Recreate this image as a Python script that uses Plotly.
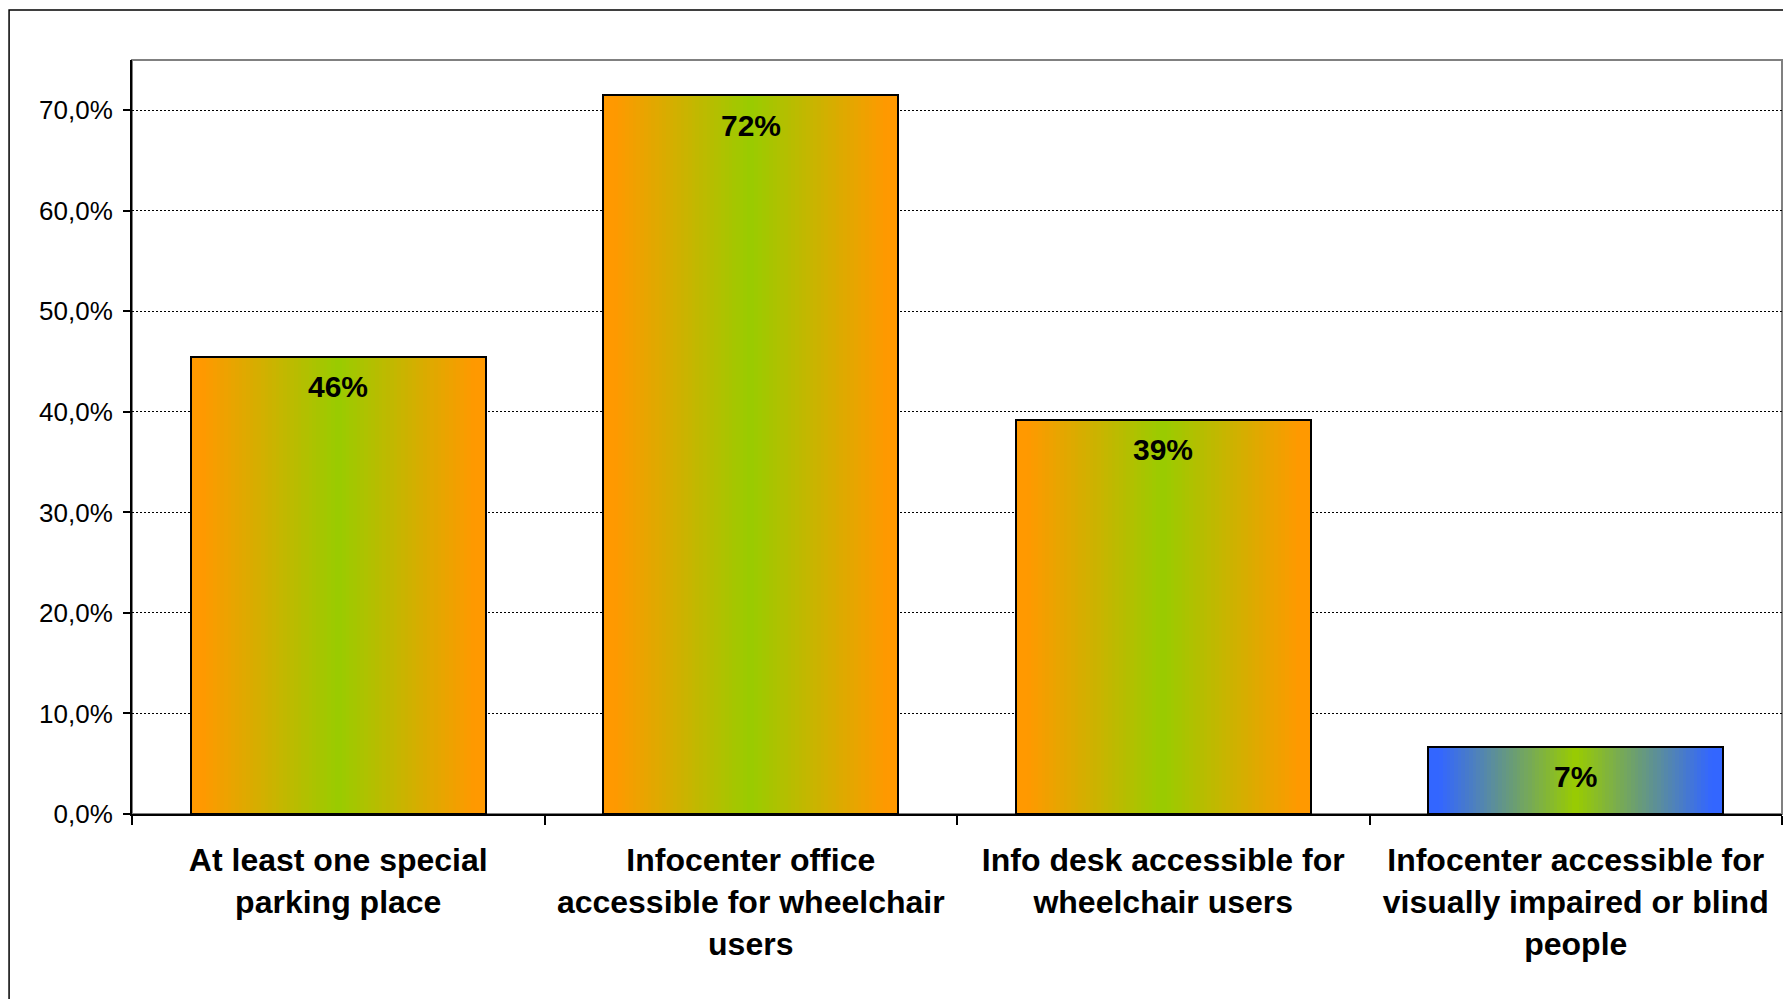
import plotly.graph_objects as go

# ---- data ----
categories = [
    "At least one special<br>parking place",
    "Infocenter office<br>accessible for wheelchair<br>users",
    "Info desk accessible for<br>wheelchair users",
    "Infocenter accessible for<br>visually impaired or blind<br>people",
]
values = [45.5, 71.5, 39.2, 6.7]
value_labels = ["46%", "72%", "39%", "7%"]
edge_colors = ["#FF9900", "#FF9900", "#FF9900", "#3366FF"]
center_colors = ["#99CC00", "#99CC00", "#99CC00", "#99CC00"]
ytick_vals = [0, 10, 20, 30, 40, 50, 60, 70]
ytick_text = ["0,0%", "10,0%", "20,0%", "30,0%", "40,0%", "50,0%", "60,0%", "70,0%"]

FONT = "Liberation Sans, Arial, sans-serif"
BAR_W = 0.715
N = 80
BORDER = 0.08


def hex2rgb(h):
    h = h.lstrip("#")
    return [int(h[i:i + 2], 16) for i in (0, 2, 4)]


def mix(c_center, c_edge, t):
    a, b = hex2rgb(c_center), hex2rgb(c_edge)
    return "rgb(%d,%d,%d)" % tuple(round(a[k] + (b[k] - a[k]) * t) for k in range(3))


fig = go.Figure()
step = BAR_W / N
for i in range(N):
    t = min(1.0, abs(((i + 0.5) / N) * 2 - 1) / (1 - BORDER))
    cols = [mix(center_colors[j], edge_colors[j], t) for j in range(len(categories))]
    w = step * 1.8 if i < N - 1 else step
    fig.add_trace(go.Bar(
        x=categories, y=values, width=w, offset=-BAR_W / 2 + i * step,
        marker=dict(color=cols, line=dict(width=0)),
        hoverinfo="skip", showlegend=False,
    ))

# outline
fig.add_trace(go.Bar(
    x=categories, y=values, width=BAR_W,
    marker=dict(color="rgba(0,0,0,0)", line=dict(color="black", width=2)),
    showlegend=False,
))

for c, v, lab in zip(categories, values, value_labels):
    fig.add_annotation(x=c, y=v, text="<b>%s</b>" % lab, showarrow=False,
                       yshift=-30, yanchor="middle",
                       font=dict(family=FONT, size=30, color="black"))

# plot-area border (gray) and outer frame
fig.add_shape(type="rect", xref="paper", yref="paper", x0=0, x1=1, y0=0, y1=1,
              line=dict(color="#808080", width=2), layer="below")
fig.add_shape(type="rect", xref="paper", yref="paper", x0=-0.0745, x1=1.2, y0=-0.5, y1=1.0663,
              line=dict(color="black", width=1.5), layer="below")

fig.update_layout(
    width=1791, height=999,
    margin=dict(l=124, r=17, t=52, b=193),
    paper_bgcolor="white", plot_bgcolor="white",
    barmode="overlay", bargap=0,
    font=dict(family=FONT, color="black"),
    showlegend=False,
)
fig.update_xaxes(
    showline=True, linecolor="black", linewidth=2,
    ticks="outside", ticklen=9, tickcolor="black", tickwidth=1.5, tickson="boundaries",
    tickfont=dict(family=FONT, size=32, color="black"),
    showgrid=False, ticklabelstandoff=17,
)
fig.update_xaxes(tickvals=list(range(len(categories))), ticktext=["<b>%s</b>" % c for c in categories])
fig.update_yaxes(
    range=[0, 75], tickvals=ytick_vals, ticktext=ytick_text,
    showline=True, linecolor="black", linewidth=2,
    ticks="outside", ticklen=7, tickcolor="black", tickwidth=1.5,
    tickfont=dict(family=FONT, size=26, color="black"),
    showgrid=True, gridcolor="black", gridwidth=1, griddash="2px,2px",
    zeroline=False, ticklabelstandoff=5,
)

fig.write_html("out.html")
